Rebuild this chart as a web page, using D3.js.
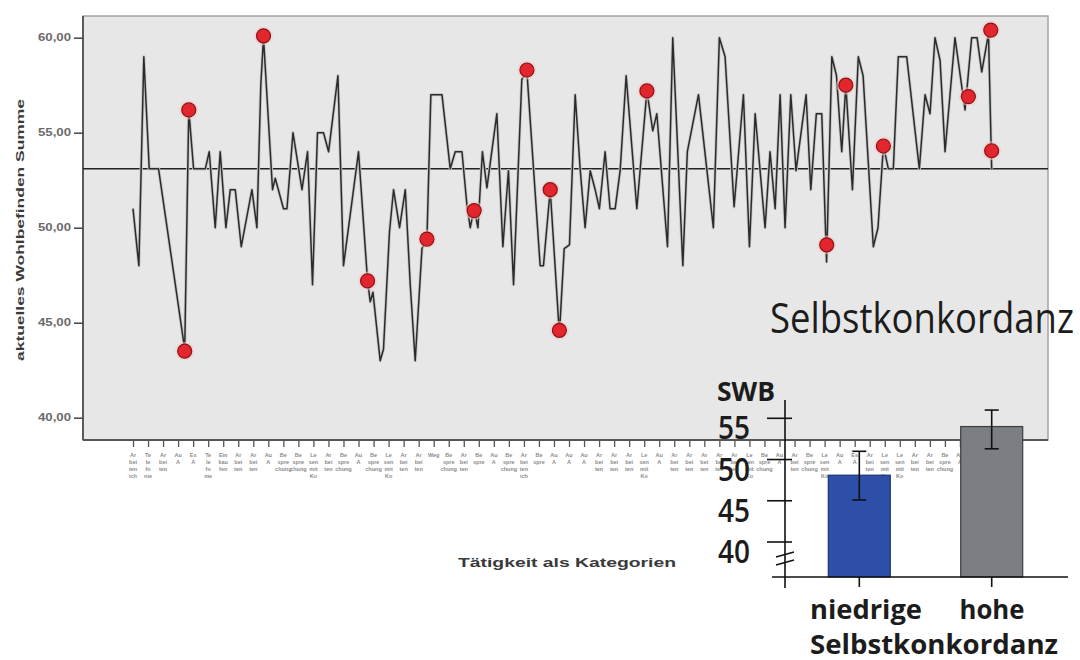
<!DOCTYPE html>
<html><head><meta charset="utf-8">
<script src="https://cdn.jsdelivr.net/npm/d3@7"></script>
<style>html,body{margin:0;padding:0;background:#fff;}svg{display:block;}</style>
</head><body>
<svg id="chart" width="1080" height="660"></svg>
<script>
// ---------- DATA ----------
const yTickValues = [40, 45, 50, 55, 60];
const tickLabels = [
 "Ar-bei-ten-ich","Te-le-fo-nie","Ar-bei-ten","Au-A","Es-A","Te-le-fo-nie","Ein-kau-fen","Ar-bei-ten","Ar-bei-ten","Au-A",
 "Be-spre-chung","Be-spre-chung","Le-sen-mit-Ko","Ar-bei-ten","Be-spre-chung","Au-A","Be-spre-chung","Le-sen-mit-Ko","Ar-bei-ten","Ar-bei-ten",
 "Weg","Be-spre-chung","Ar-bei-ten","Be-spre","Au-A","Be-spre-chung","Ar-bei-ten-ich","Be-spre","Au-A","Au-A",
 "Au-A","Ar-bei-ten","Ar-bei-ten","Ar-bei-ten","Le-sen-mit-Ko","Au-A","Ar-bei-ten","Ar-bei-ten","Ar-bei-ten","Ar-bei-ten",
 "Ar-bei-ten","Le-sen-mit-Ko","Be-spre-chung","Au-A","Ar-bei-ten","Be-spre-chung","Le-sen-mit-Ko","Au-A","Es-A","Ar-bei-ten",
 "Le-sen-mit-Ko","Le-sen-mit-Ko","Ar-bei-ten","Ar-bei-ten","Be-spre-chung","Au-A","Ar-bei-ten","Ar-bei-ten"
];
// measurement position (in category-tick units) and "aktuelles Wohlbefinden Summe"
const linePos = [0,0.39,0.72,1.08,1.70,3.44,3.71,4.03,4.81,5.07,5.47,5.80,6.18,6.47,6.80,7.20,7.91,8.24,8.50,8.68,
 9.28,9.46,10.01,10.24,10.64,11.24,11.61,11.94,12.27,12.67,13.01,13.63,14.00,15.00,15.60,15.78,15.96,16.44,16.66,17.06,
 17.33,17.73,18.11,18.44,18.77,19.22,19.55,19.81,20.55,21.10,21.43,21.88,22.21,22.43,22.69,22.94,23.24,23.54,24.20,24.60,
 24.97,25.31,25.86,26.20,27.08,27.30,27.75,28.36,28.68,29.03,29.41,29.74,30.07,30.41,30.74,31.02,31.40,31.73,32.07,32.40,
 32.80,33.51,34.18,34.57,34.84,35.55,35.90,36.57,36.87,37.61,38.60,39.00,39.38,39.98,40.60,41.00,41.38,42.04,42.37,42.71,
 43.04,43.37,43.75,44.10,44.77,45.08,45.45,45.81,46.13,46.48,46.79,47.14,47.41,47.85,48.24,48.56,49.24,49.55,49.91,50.24,
 50.57,50.90,51.46,52.30,52.68,53.01,53.34,53.68,54.01,54.67,55.34,55.78,56.14,56.45,56.90,57.11];
const lineValue = [51.0,48.0,59.0,53.1,53.1,43.6,56.2,53.1,53.1,54.0,50.0,54.0,50.0,52.0,52.0,49.0,52.0,50.0,57.5,60.0,
 52.0,52.6,51.0,51.0,55.0,52.0,54.0,47.0,55.0,55.0,54.0,58.0,48.0,54.0,47.2,46.1,46.6,43.0,43.6,49.8,
 52.0,50.0,52.0,47.0,43.0,48.9,49.4,57.0,57.0,53.1,54.0,54.0,51.2,50.0,51.0,50.0,54.0,52.1,56.0,49.0,
 53.0,47.0,57.8,58.2,48.0,48.0,52.0,44.4,48.9,49.1,57.0,53.1,50.0,53.0,52.0,51.0,54.0,51.0,51.0,53.0,
 58.0,51.0,57.2,55.1,56.0,49.0,60.0,48.0,54.0,57.0,50.0,60.0,59.0,51.1,57.0,49.0,56.0,50.0,54.0,51.0,
 57.0,50.0,57.0,53.0,57.0,52.0,56.0,56.0,48.2,59.0,58.0,54.0,57.5,52.0,59.0,58.0,49.0,50.0,54.3,53.1,
 53.1,59.0,59.0,53.1,57.0,56.0,60.0,58.8,54.0,60.0,56.2,60.0,60.0,58.2,60.2,53.1];
// highlighted moments (red markers)
const markerPos = [3.44,3.71,8.68,15.60,19.55,22.69,26.20,27.75,28.36,34.18,46.14,47.41,49.91,55.56,57.05,57.11];
const markerValue = [43.5,56.2,60.1,47.2,49.4,50.9,58.3,52.0,44.6,57.2,49.1,57.5,54.3,56.9,60.4,54.05];
const meanValue = 53.1;

// inset bar chart
const insetGroups = ["niedrige", "hohe"];
const insetMeans = [48.1, 54.0];
const insetLow = [45.1, 51.3];
const insetHigh = [51.0, 56.0];
const insetTicks = [40, 45, 50, 55];
const insetFloor = 35.76;

// ---------- DRAW ----------
const svg = d3.select("#chart");
const box = {l: 83, r: 1048, t: 16, b: 440};
const x = d3.scaleLinear().domain([0, 57]).range([133, 990]);
const y = d3.scaleLinear().domain([40, 60]).range([417.7, 37.7]);

svg.append("rect").attr("x", box.l).attr("y", box.t).attr("width", box.r - box.l).attr("height", box.b - box.t)
  .attr("fill", "#e7e7e7").attr("stroke", "#a3a3a3").attr("stroke-width", 1.5);

// y axis
const yAxis = svg.append("g").attr("transform", `translate(${box.l},0)`)
  .call(d3.axisLeft(y).tickValues(yTickValues).tickSize(9).tickSizeOuter(0)
    .tickFormat(d => d3.format(".2f")(d).replace(".", ",")));
yAxis.select(".domain").remove();
yAxis.selectAll(".tick line").attr("stroke", "#444").attr("stroke-width", 1.5);
yAxis.selectAll(".tick text").attr("font-family", "Liberation Sans, Arial, sans-serif").attr("font-size", 10)
  .attr("font-weight", "bold").attr("fill", "#6a6a6a").attr("x", -12).attr("textLength", 33).attr("lengthAdjust", "spacingAndGlyphs");
svg.append("line").attr("x1", box.l).attr("x2", box.l).attr("y1", box.t).attr("y2", box.b).attr("stroke", "#444").attr("stroke-width", 1.6);

// x axis
const xAxis = svg.append("g").attr("transform", `translate(0,${box.b})`)
  .call(d3.axisBottom(x).tickValues(d3.range(tickLabels.length)).tickSize(7).tickSizeOuter(0).tickFormat(""));
xAxis.select(".domain").remove();
xAxis.selectAll(".tick line").attr("stroke", "#555").attr("stroke-width", 1.3);
svg.append("line").attr("x1", box.l).attr("x2", box.r).attr("y1", box.b).attr("y2", box.b).attr("stroke", "#555").attr("stroke-width", 1.8);

const lbl = svg.append("g").attr("font-family", "Liberation Sans, Arial, sans-serif").attr("font-size", 5.5)
  .attr("font-weight", "bold").attr("fill", "#8c8c8c").attr("text-anchor", "middle");
tickLabels.forEach((t, i) => {
  const tx = lbl.append("text").attr("x", x(i)).attr("y", 457);
  t.split("-").forEach((p, j) => tx.append("tspan").attr("x", x(i)).attr("dy", j === 0 ? 0 : 7).text(p));
});

// mean line
svg.append("line").attr("x1", box.l).attr("x2", box.r).attr("y1", y(meanValue)).attr("y2", y(meanValue))
  .attr("stroke", "#222").attr("stroke-width", 1.5);

// series line
const pts = linePos.map((p, i) => [p, lineValue[i]]);
svg.append("path").datum(pts)
  .attr("d", d3.line().x(d => x(d[0])).y(d => y(d[1])))
  .attr("fill", "none").attr("stroke", "#c8c8c8").attr("stroke-width", 3.2).attr("stroke-linejoin", "round");
svg.append("path").datum(pts)
  .attr("d", d3.line().x(d => x(d[0])).y(d => y(d[1])))
  .attr("fill", "none").attr("stroke", "#2b2b2b").attr("stroke-width", 1.5).attr("stroke-linejoin", "round");

// markers
const mk = svg.append("g");
markerPos.forEach((p, i) => {
  mk.append("circle").attr("cx", x(p)).attr("cy", y(markerValue[i])).attr("r", 9.5).attr("fill", "#f3c9c9").attr("opacity", 0.55);
  mk.append("circle").attr("cx", x(p)).attr("cy", y(markerValue[i])).attr("r", 7)
    .attr("fill", "#e3262e").attr("stroke", "#8a1414").attr("stroke-width", 1.2);
});

// axis titles
svg.append("text").attr("transform", "translate(24,230) rotate(-90)").attr("text-anchor", "middle")
  .attr("font-family", "Liberation Sans, Arial, sans-serif").attr("font-size", 11).attr("font-weight", "bold").attr("fill", "#3a3a3a")
  .attr("textLength", 262).attr("lengthAdjust", "spacingAndGlyphs").text("aktuelles Wohlbefinden Summe");
svg.append("text").attr("x", 567).attr("y", 567).attr("text-anchor", "middle")
  .attr("font-family", "Liberation Sans, Arial, sans-serif").attr("font-size", 12).attr("font-weight", "bold").attr("fill", "#3a3a3a")
  .attr("textLength", 218).attr("lengthAdjust", "spacingAndGlyphs").text("Tätigkeit als Kategorien");

// ---------- INSET ----------
const insetFont = "Open Sans, Noto Sans, sans-serif";
svg.append("text").attr("x", 770).attr("y", 333).attr("font-family", insetFont).attr("font-size", 42).attr("font-weight", 500)
  .attr("fill", "#1c1c1c").attr("textLength", 304).attr("lengthAdjust", "spacingAndGlyphs").text("Selbstkonkordanz");

const xIn = d3.scalePoint().domain(insetGroups).range([859.3, 991.7]);
const yIn = d3.scaleLinear().domain([40, 55]).range([542, 418.3]);
const barW = 62;
const base = yIn(insetFloor);
const barFill = ["#2d4fa8", "#7b7e82"], barStroke = ["#1b3378", "#3e3e3e"];

insetGroups.forEach((g, i) => {
  svg.append("rect").attr("x", xIn(g) - barW / 2).attr("y", yIn(insetMeans[i])).attr("width", barW)
    .attr("height", base - yIn(insetMeans[i])).attr("fill", barFill[i]).attr("stroke", barStroke[i]).attr("stroke-width", 1.2);
  const e = svg.append("g").attr("stroke", "#111").attr("stroke-width", 1.6);
  e.append("line").attr("x1", xIn(g)).attr("x2", xIn(g)).attr("y1", yIn(insetHigh[i])).attr("y2", yIn(insetLow[i]));
  [insetHigh[i], insetLow[i]].forEach(v => e.append("line").attr("x1", xIn(g) - 7).attr("x2", xIn(g) + 7)
    .attr("y1", yIn(v)).attr("y2", yIn(v)));
  svg.append("line").attr("x1", xIn(g)).attr("x2", xIn(g)).attr("y1", base).attr("y2", base + 10).attr("stroke", "#111").attr("stroke-width", 1.6);
});
// inset axes
svg.append("line").attr("x1", 772).attr("x2", 1068).attr("y1", base).attr("y2", base).attr("stroke", "#111").attr("stroke-width", 1.6);
svg.append("line").attr("x1", 785).attr("x2", 785).attr("y1", 400).attr("y2", 588).attr("stroke", "#111").attr("stroke-width", 1.6);
insetTicks.forEach(v => {
  svg.append("line").attr("x1", 767).attr("x2", 792).attr("y1", yIn(v)).attr("y2", yIn(v)).attr("stroke", "#111").attr("stroke-width", 1.6);
  svg.append("text").attr("x", 750).attr("y", yIn(v) + 21).attr("text-anchor", "end").attr("font-family", insetFont)
    .attr("font-size", 33).attr("font-weight", 600).attr("fill", "#1c1c1c")
    .attr("textLength", 32).attr("lengthAdjust", "spacingAndGlyphs").text(v);
});
// axis break
svg.append("line").attr("x1", 776).attr("x2", 794).attr("y1", 557).attr("y2", 552).attr("stroke", "#111").attr("stroke-width", 1.5);
svg.append("line").attr("x1", 776).attr("x2", 794).attr("y1", 565).attr("y2", 560).attr("stroke", "#111").attr("stroke-width", 1.5);

svg.append("text").attr("x", 717).attr("y", 401).attr("font-family", insetFont).attr("font-size", 27).attr("font-weight", "bold")
  .attr("fill", "#1c1c1c").attr("textLength", 58).attr("lengthAdjust", "spacingAndGlyphs").text("SWB");
svg.append("text").attr("x", 866).attr("y", 619).attr("text-anchor", "middle").attr("font-family", insetFont).attr("font-size", 27)
  .attr("font-weight", "bold").attr("fill", "#1c1c1c").attr("textLength", 112).attr("lengthAdjust", "spacingAndGlyphs").text("niedrige");
svg.append("text").attr("x", 992).attr("y", 619).attr("text-anchor", "middle").attr("font-family", insetFont).attr("font-size", 27)
  .attr("font-weight", "bold").attr("fill", "#1c1c1c").attr("textLength", 65).attr("lengthAdjust", "spacingAndGlyphs").text("hohe");
svg.append("text").attr("x", 934).attr("y", 654).attr("text-anchor", "middle").attr("font-family", insetFont).attr("font-size", 26)
  .attr("font-weight", "bold").attr("fill", "#1c1c1c").attr("textLength", 248).attr("lengthAdjust", "spacingAndGlyphs").text("Selbstkonkordanz");
</script>
</body></html>
